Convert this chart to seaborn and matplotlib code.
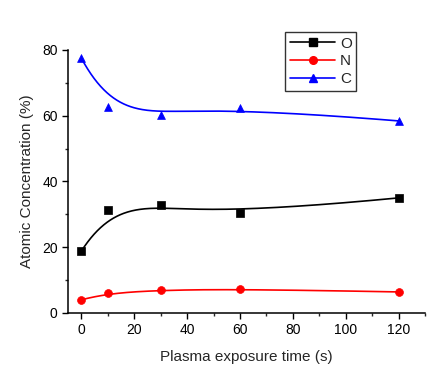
import numpy as np
import pandas as pd
import seaborn as sns
import matplotlib
matplotlib.use("Agg")
import matplotlib.pyplot as plt
from matplotlib.lines import Line2D
from matplotlib.ticker import MultipleLocator

# exposure times and atomic concentrations
time_s = [0, 10, 30, 60, 120]
O_pct = [18.8, 31.3, 32.8, 30.4, 35.0]
N_pct = [4.0, 6.1, 7.0, 7.3, 6.4]
C_pct = [77.5, 62.6, 60.2, 62.3, 58.4]

series = {'O': O_pct, 'N': N_pct, 'C': C_pct}
colors = {'O': 'black', 'N': '#ff0000', 'C': '#0000ff'}
markers = {'O': 's', 'N': 'o', 'C': '^'}


def bspline(px, py, n=300, k=3):
    # clamped B-spline using the data points as control points (Origin style)
    px = np.asarray(px, float)
    py = np.asarray(py, float)
    m = len(px)
    inner = np.linspace(0, 1, m - k + 1)[1:-1]
    t = np.concatenate([np.zeros(k + 1), inner, np.ones(k + 1)])
    u = np.linspace(0, 1, n)
    u[-1] = 1 - 1e-12

    def basis(i, p, x):
        if p == 0:
            return np.where((t[i] <= x) & (x < t[i + 1]), 1.0, 0.0)
        a = 0.0
        b = 0.0
        if t[i + p] != t[i]:
            a = (x - t[i]) / (t[i + p] - t[i]) * basis(i, p - 1, x)
        if t[i + p + 1] != t[i + 1]:
            b = (t[i + p + 1] - x) / (t[i + p + 1] - t[i + 1]) * basis(i + 1, p - 1, x)
        return a + b

    B = np.array([basis(i, k, u) for i in range(m)])
    return B.T @ px, B.T @ py


sns.set_style("ticks")
plt.rcParams['font.family'] = ['Liberation Sans', 'DejaVu Sans']

fig = plt.figure(figsize=(4.48, 3.78), dpi=100)
ax = fig.add_axes([0.152, 0.172, 0.797, 0.696])

for name, vals in series.items():
    cx, cy = bspline(time_s, vals)
    sns.lineplot(x=cx, y=cy, ax=ax, color=colors[name], lw=1.2, sort=False,
                 estimator=None)
    sns.scatterplot(x=time_s, y=vals, ax=ax, color=colors[name],
                    marker=markers[name], s=32, edgecolor=colors[name],
                    linewidth=0.5, zorder=3)

ax.set_xlim(-5, 130)
ax.set_ylim(0, 80)
ax.xaxis.set_major_locator(MultipleLocator(20))
ax.xaxis.set_minor_locator(MultipleLocator(10))
ax.yaxis.set_major_locator(MultipleLocator(20))
ax.yaxis.set_minor_locator(MultipleLocator(10))
ax.tick_params(which='major', direction='out', length=4, width=1, labelsize=10,
               colors='black')
ax.tick_params(which='minor', direction='out', length=2.5, width=1)
for s in ['top', 'right']:
    ax.spines[s].set_visible(False)
for s in ['left', 'bottom']:
    ax.spines[s].set_linewidth(1.1)
    ax.spines[s].set_color('black')

ax.set_xlabel('Plasma exposure time (s)', fontsize=11, labelpad=9)
ax.set_ylabel('Atomic Concentration (%)', fontsize=11, labelpad=6)

handles = [Line2D([0], [0], color=colors[n], marker=markers[n], lw=1.2,
                  markersize=5.5) for n in series]
leg = ax.legend(handles, list(series.keys()), loc='upper left',
                frameon=True, fancybox=False, edgecolor='black', fontsize=11,
                handlelength=3.0, handletextpad=0.3, borderpad=0.3,
                labelspacing=0.25, borderaxespad=0)
leg.get_frame().set_linewidth(1.0)
leg.set_bbox_to_anchor((285 / 448, 1 - 32 / 378), transform=fig.transFigure)

fig.savefig('out.png', dpi=100)
